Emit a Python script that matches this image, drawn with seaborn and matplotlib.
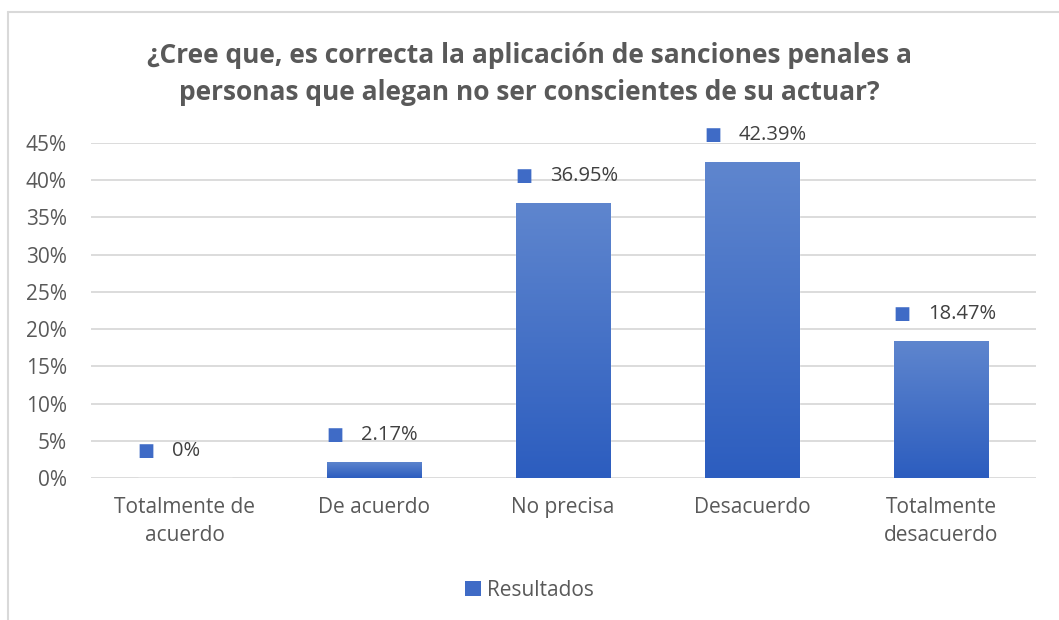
import numpy as np
import pandas as pd
import matplotlib
matplotlib.use("Agg")
import matplotlib.pyplot as plt
import seaborn as sns
from matplotlib.colors import LinearSegmentedColormap
from matplotlib.patches import Patch
from matplotlib.lines import Line2D

# data
categorias = ["Totalmente de\nacuerdo", "De acuerdo", "No precisa", "Desacuerdo", "Totalmente\ndesacuerdo"]
valores = [0.0, 2.17, 36.95, 42.39, 18.47]
etiquetas = ["0%", "2.17%", "36.95%", "42.39%", "18.47%"]
ticks_y = [0, 5, 10, 15, 20, 25, 30, 35, 40, 45]
serie = "Resultados"
titulo = "¿Cree que, es correcta la aplicación de sanciones penales a\npersonas que alegan no ser conscientes de su actuar?"

TEXT = "#595959"
GRID = "#D9D9D9"
BAR_TOP = "#5F86CE"
BAR_BOT = "#2C5DBF"

sns.set_theme(style="white")
plt.rcParams['font.family'] = ['Open Sans', 'DejaVu Sans']

df = pd.DataFrame({"cat": categorias, "val": valores})

fig = plt.figure(figsize=(10.59, 6.2), dpi=100)
ax = fig.add_axes([90.5 / 1059, 1 - 478 / 620, 945 / 1059, 335 / 620])

sns.barplot(data=df, x="cat", y="val", color=BAR_BOT, width=0.5, ax=ax, zorder=2)

# excel-like vertical gradient inside each bar
cmap = LinearSegmentedColormap.from_list("g", [BAR_BOT, BAR_TOP])
grad = np.linspace(0, 1, 256).reshape(-1, 1)
for bar in ax.patches:
    h = bar.get_height()
    if h <= 0:
        continue
    x0 = bar.get_x()
    w = bar.get_width()
    im = ax.imshow(grad, extent=[x0, x0 + w, 0, h], origin="lower", cmap=cmap,
                   aspect="auto", zorder=3)
    im.set_clip_path(bar)

ax.set_xlim(-0.5, len(categorias) - 0.5)
ax.set_ylim(0, 45)
ax.set_yticks(ticks_y)
ax.set_yticklabels([f"{t}%" for t in ticks_y])
ax.yaxis.grid(True, color=GRID, linewidth=1.3, zorder=0)
ax.set_axisbelow(True)
for s in ax.spines.values():
    s.set_visible(False)
ax.tick_params(axis="both", length=0, colors=TEXT, labelsize=15)
ax.tick_params(axis="y", pad=17)
ax.tick_params(axis="x", pad=14)
ax.set_xlabel("")
ax.set_ylabel("")
for lbl in ax.get_xticklabels():
    lbl.set_linespacing(1.4)

# data labels with small square marker
for i, (v, t) in enumerate(zip(valores, etiquetas)):
    ax.annotate("■", xy=(i, v), xytext=(-39, 27), textcoords="offset pixels",
                ha="center", va="center", fontsize=13, color="#3F6BC6",
                family=['DejaVu Sans'], zorder=5)
    ax.annotate(t, xy=(i, v), xytext=(-13, 27), textcoords="offset pixels",
                ha="left", va="center", fontsize=14.5, color="#404040", zorder=5)

fig.text(0.5, 1 - 74 / 620, titulo, ha="center", va="center", fontsize=19,
         fontweight="bold", color=TEXT, linespacing=1.45)

handle = Patch(facecolor="#3F6BC6", edgecolor="none")
fig.legend([handle], [serie], loc="center", bbox_to_anchor=(0.5, 1 - 590 / 620),
           frameon=False, fontsize=15, handlelength=0.75, handleheight=0.75,
           handletextpad=0.3, labelcolor=TEXT)

# chart frame (top and left edges visible)
fig.add_artist(Line2D([8 / 1059, 1], [1 - 12 / 620, 1 - 12 / 620], color=GRID, lw=1.5,
                      transform=fig.transFigure))
fig.add_artist(Line2D([8 / 1059, 8 / 1059], [0, 1 - 12 / 620], color=GRID, lw=1.5,
                      transform=fig.transFigure))

fig.savefig("out.png", dpi=100)
